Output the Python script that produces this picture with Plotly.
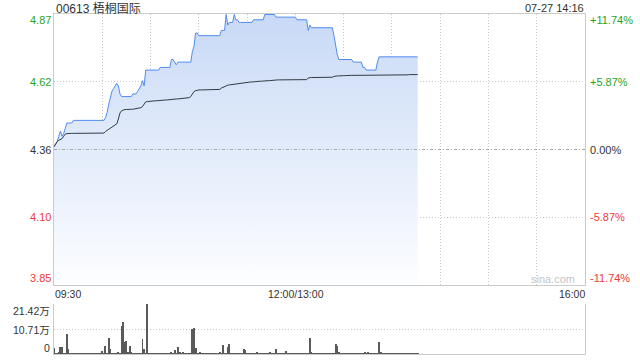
import plotly.graph_objects as go

# ---- data (minute index from 09:30; 12:00 and 13:00 share index 150) ----
prev_close = 4.36

price = [
    4.37, 4.38, 4.39, 4.41, 4.43, 4.41, 4.42, 4.44, 4.46, 4.46, 4.46, 4.46,
    4.47, 4.47, 4.47, 4.47, 4.47, 4.47, 4.47, 4.47, 4.47, 4.47,
    4.47, 4.47, 4.47, 4.47, 4.47, 4.47, 4.47, 4.47, 4.47, 4.47,
    4.48, 4.50, 4.53, 4.56, 4.58, 4.59, 4.60, 4.61, 4.60, 4.57,
    4.56, 4.56, 4.56, 4.56, 4.56, 4.56, 4.56, 4.57, 4.57, 4.57,
    4.58, 4.59, 4.60, 4.62, 4.60,
    4.66, 4.66, 4.66, 4.66, 4.66, 4.66, 4.66, 4.66, 4.66,
    4.67, 4.67, 4.67, 4.67, 4.67, 4.67, 4.67,
    4.70, 4.70, 4.69, 4.68,
    4.69, 4.69, 4.69, 4.69, 4.69, 4.69, 4.69, 4.69, 4.69,
    4.73, 4.75, 4.80, 4.80,
    4.79, 4.79, 4.79, 4.79, 4.79, 4.79, 4.79, 4.79, 4.79, 4.79, 4.79, 4.79, 4.79, 4.79,
    4.81, 4.81, 4.81, 4.87, 4.83, 4.84, 4.84, 4.84, 4.87, 4.85, 4.85, 4.84,
    4.84, 4.84, 4.84, 4.84, 4.84, 4.84, 4.84, 4.84,
    4.85, 4.85, 4.85, 4.85, 4.85, 4.85, 4.85,
    4.87, 4.87, 4.87, 4.87, 4.87, 4.87, 4.87,
    4.86, 4.86, 4.86, 4.86, 4.86, 4.86, 4.86, 4.86, 4.86, 4.86, 4.86, 4.86, 4.86,
    4.85, 4.85, 4.85, 4.85, 4.85, 4.85, 4.85,
    4.81, 4.83, 4.82,
    4.82, 4.82, 4.82, 4.82, 4.82, 4.82, 4.82, 4.82, 4.82, 4.82, 4.82, 4.82, 4.82,
    4.79, 4.75, 4.72,
    4.70, 4.70, 4.70, 4.70, 4.70, 4.70, 4.70, 4.70, 4.70,
    4.69, 4.69, 4.69, 4.69, 4.69, 4.69,
    4.67, 4.67,
    4.66, 4.66, 4.66, 4.66, 4.66, 4.66, 4.66,
    4.69,
    4.71, 4.71, 4.71, 4.71, 4.71, 4.71, 4.71, 4.71, 4.71, 4.71,
    4.71, 4.71, 4.71, 4.71, 4.71, 4.71, 4.71, 4.71, 4.71, 4.71,
    4.71, 4.71, 4.71, 4.71, 4.71,
]

avg_price = [
    4.371, 4.382, 4.390, 4.395, 4.398, 4.401, 4.410, 4.418, 4.420,
    4.421, 4.421, 4.421, 4.421, 4.421, 4.421, 4.421, 4.421, 4.421, 4.421, 4.421, 4.421,
    4.422, 4.422, 4.422, 4.422, 4.422, 4.422, 4.422, 4.422, 4.422, 4.422, 4.422,
    4.428, 4.432, 4.436, 4.439, 4.444, 4.449, 4.454, 4.457,
    4.475, 4.498, 4.506, 4.510, 4.511,
    4.511, 4.512, 4.512, 4.512, 4.512,
    4.513, 4.514, 4.515, 4.516, 4.518,
    4.522, 4.530, 4.540, 4.541,
    4.542, 4.542, 4.543, 4.543, 4.544, 4.544, 4.545,
    4.545, 4.546, 4.546, 4.547, 4.547, 4.548, 4.548, 4.549, 4.549, 4.550,
    4.551, 4.551, 4.552, 4.553, 4.553, 4.554, 4.555, 4.555, 4.556,
    4.560, 4.572, 4.579, 4.582, 4.584,
    4.585, 4.585, 4.585, 4.586, 4.586, 4.586, 4.586, 4.586, 4.586, 4.587, 4.587, 4.587, 4.587, 4.587,
    4.592, 4.595, 4.598, 4.601, 4.603,
    4.604, 4.605, 4.606, 4.607, 4.608, 4.609, 4.610, 4.611, 4.612, 4.613,
    4.613, 4.614, 4.614, 4.615, 4.615, 4.616, 4.616, 4.617, 4.617, 4.618, 4.618, 4.619, 4.619, 4.619, 4.620, 4.620,
    4.621, 4.621, 4.622, 4.622, 4.623, 4.623, 4.623, 4.624, 4.624,
    4.624, 4.624, 4.624, 4.624, 4.624, 4.624, 4.624, 4.624, 4.624, 4.624, 4.624, 4.624, 4.624, 4.624,
    4.630, 4.632,
    4.632, 4.632, 4.632, 4.632, 4.633, 4.633, 4.633, 4.633, 4.633, 4.633, 4.633, 4.633, 4.633, 4.633,
    4.636, 4.638,
    4.638, 4.638, 4.639, 4.639, 4.639, 4.639, 4.640, 4.640, 4.640, 4.640,
    4.640, 4.640, 4.640, 4.640, 4.640,
    4.641, 4.641, 4.641, 4.641, 4.641, 4.641, 4.641, 4.641, 4.641, 4.641, 4.641, 4.641, 4.641, 4.641, 4.641,
    4.642, 4.642, 4.642, 4.642, 4.642, 4.642, 4.642, 4.642, 4.642, 4.642,
    4.642, 4.642, 4.642, 4.642, 4.642,
    4.643, 4.643, 4.643, 4.643, 4.643, 4.643,
]

# volume in 万 shares per minute
volume = [
    2.4, 0.3, 0.1, 1.0, 2.9, 2.9, 0.2, 0.2, 8.6, 2.2,
    0.2, 0.3, 0.1, 0.2, 0.3, 0.2, 0.1, 0.3, 0.2, 0.2,
    0.3, 0.1, 0.2, 0.3, 0.2, 0.2, 0.1, 0.3, 0.2, 0.3,
    1.3, 0.3, 3.4, 0.4, 6.9, 2.0, 0.2, 0.3, 0.4, 0.2,
    0.6, 0.3, 11.8, 13.8, 5.2, 5.6, 0.5, 3.4, 0.9, 0.2,
    0.3, 0.2, 0.1, 0.3, 0.2, 6.5, 2.2, 0.2, 21.3, 0.3,
    0.2, 0.3, 0.2, 0.1, 0.3, 0.2, 0.2, 0.3, 0.1, 0.2,
    0.3, 0.2, 0.2, 1.0, 0.3, 1.7, 0.4, 3.2, 0.5, 0.3,
    0.6, 0.2, 0.3, 0.2, 0.1, 0.3, 10.5, 11.2, 2.6, 0.3,
    0.2, 0.9, 0.2, 0.3, 0.2, 0.1, 0.3, 0.2, 0.2, 0.3,
    0.2, 0.3, 0.2, 1.0, 0.3, 4.0, 0.3, 0.2, 3.0, 4.5,
    0.3, 0.2, 0.3, 0.2, 0.1, 0.3, 0.2, 0.3, 2.2, 1.7,
    0.3, 0.2, 0.3, 0.2, 0.3, 0.2, 0.9, 0.3, 0.2, 0.3,
    0.2, 0.3, 0.2, 0.3, 0.9, 0.4, 0.3, 0.2, 2.2, 0.3,
    0.2, 0.3, 0.2, 0.3, 1.3, 0.3, 0.2, 0.3, 0.2, 0.3,
    0.2, 0.3, 0.2, 0.3, 0.2, 0.3, 0.2, 0.3, 0.2, 6.9,
    0.6, 0.3, 0.2, 0.3, 0.2, 0.3, 0.2, 0.3, 0.2, 0.3,
    0.2, 0.3, 0.2, 0.3, 0.2, 4.5, 3.6, 0.5, 0.3, 0.2,
    0.3, 0.2, 0.3, 0.2, 0.3, 0.2, 0.3, 0.2, 0.3, 0.2,
    0.3, 0.2, 0.3, 0.9, 0.4, 0.5, 0.3, 0.2, 0.3, 0.2,
    0.3, 0.2, 5.3, 0.6, 0.3, 0.2, 0.3, 0.2, 0.3, 0.2,
    0.3, 0.2, 0.3, 0.2, 0.3, 0.2, 0.3, 0.2, 0.3, 0.2,
    0.3, 0.2, 0.3, 0.2, 0.3, 0.2, 0.3,
]

minutes = list(range(len(price)))
vol_x = list(range(len(volume)))

title_text = "00613 梧桐国际"
time_text = "07-27 14:16"
price_ticks = [4.87, 4.62, 4.36, 4.10, 3.85]
pct_ticks = ["+11.74%", "+5.87%", "0.00%", "-5.87%", "-11.74%"]
vol_ticks = ["21.42万", "10.71万", "0"]
x_labels = ["09:30", "12:00/13:00", "16:00"]

# ---- figure geometry ----
W, H = 640, 360
L, R, T, B = 54, 55, 14, 6
PW, PH = W - L - R, H - T - B
span = prev_close * 0.1174
y_lo, y_hi = prev_close - span, prev_close + span
vol_max = 21.42

def px(x):
    return (x - L) / PW

def py(y):
    return (H - B - y) / PH

main_dom = [py(285), 1.0]
vol_dom = [0.0, py(304)]

GREEN = "#1ea51e"
RED = "#f03a3a"
DARK = "#333333"
GRID = "#c8c8c8"
BORDER = "#cccccc"
FONT = "Liberation Sans, Arial, Noto Sans CJK SC, sans-serif"

fig = go.Figure()

fig.add_trace(go.Scatter(
    x=minutes, y=price, mode="lines",
    line=dict(color="#4f8bf0", width=1),
    fill="tozeroy",
    fillgradient=dict(type="vertical",
                      colorscale=[[0, "#fdfeff"], [1, "#c8d9f6"]],
                      start=y_lo, stop=y_hi),
    xaxis="x", yaxis="y", hoverinfo="skip",
))
fig.add_trace(go.Scatter(
    x=minutes, y=avg_price, mode="lines",
    line=dict(color="#333a44", width=1),
    xaxis="x", yaxis="y", hoverinfo="skip",
))
fig.add_trace(go.Bar(
    x=vol_x, y=volume, width=0.62,
    marker=dict(color="#5a5a5a", line=dict(width=0)),
    xaxis="x2", yaxis="y2", hoverinfo="skip",
))

fig.add_shape(type="line", xref="x", yref="y", x0=0, x1=330,
              y0=prev_close, y1=prev_close,
              line=dict(color="#a8a8a8", width=1, dash="3px,2px,1px,2px"))

ann = []
def add(text, x, y, xa, color=DARK, size=11):
    ann.append(dict(text=text, x=px(x), y=py(y), xref="paper", yref="paper",
                    xanchor=xa, yanchor="middle", showarrow=False,
                    borderpad=0, font=dict(color=color, size=size, family=FONT)))

add(title_text, 55, 8, "left", DARK, 12)
add(time_text, 585, 8, "right", DARK, 11)

left_y = [19.5, 82.5, 149.5, 217, 277.5]
cols = [GREEN, GREEN, DARK, RED, RED]
for t, yy, c in zip(price_ticks, left_y, cols):
    add(f"{t:.2f}", 52, yy, "right", c, 11)
for t, yy, c in zip(pct_ticks, left_y, cols):
    add(t, 589, yy, "left", c, 11)

add(x_labels[0], 54, 293.5, "left", DARK, 10.5)
add(x_labels[1], 296, 293.5, "center", DARK, 10.5)
add(x_labels[2], 586, 293.5, "right", DARK, 10.5)

for t, yy in zip(vol_ticks, [311, 330, 347.5]):
    add(t, 51, yy, "right", DARK, 10.5)

add("sina.com", 553, 278.5, "center", "#c4c4c4", 11)

fig.update_layout(
    width=W, height=H,
    margin=dict(l=L, r=R, t=T, b=B),
    paper_bgcolor="white", plot_bgcolor="white",
    showlegend=False, bargap=0,
    font=dict(family=FONT),
    annotations=ann,
    xaxis=dict(domain=[0, 1], range=[0, 330], anchor="y",
               tickvals=list(range(30, 330, 30)), showticklabels=False, ticks="",
               showgrid=True, gridcolor=GRID, gridwidth=1, griddash="1px,2px",
               showline=True, linecolor=BORDER, linewidth=1, mirror=True,
               zeroline=False, fixedrange=True),
    yaxis=dict(domain=main_dom, range=[y_lo, y_hi], anchor="x",
               tickvals=[prev_close + span / 2, prev_close - span / 2],
               showticklabels=False, ticks="",
               showgrid=True, gridcolor=GRID, gridwidth=1, griddash="1px,2px",
               showline=True, linecolor=BORDER, linewidth=1, mirror=True,
               zeroline=False, fixedrange=True),
    xaxis2=dict(domain=[0, 1], range=[0, 330], anchor="y2",
                showticklabels=False, ticks="", showgrid=False,
                showline=True, linecolor=BORDER, linewidth=1, mirror=False,
                zeroline=False, fixedrange=True),
    yaxis2=dict(domain=vol_dom, range=[0, vol_max], anchor="x2",
                tickvals=[vol_max / 2, vol_max], showticklabels=False, ticks="",
                showgrid=True, gridcolor=GRID, gridwidth=1, griddash="1px,2px",
                showline=True, linecolor=BORDER, linewidth=1, mirror=True,
                zeroline=False, fixedrange=True),
)

fig.write_html("out.html")
